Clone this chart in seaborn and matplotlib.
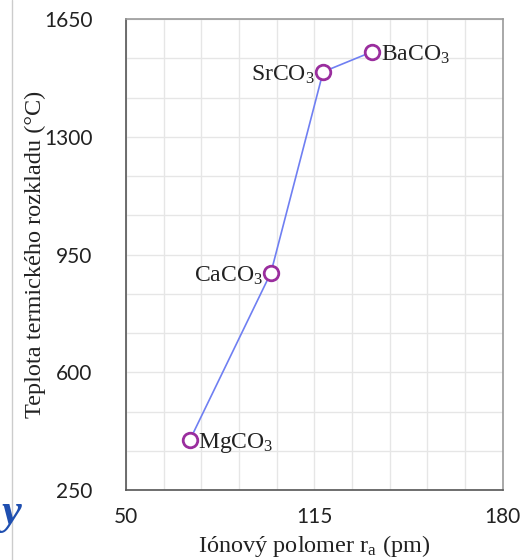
import matplotlib
matplotlib.use("Agg")
import matplotlib.pyplot as plt
import seaborn as sns
import pandas as pd

# ionic radius (pm) vs thermal decomposition temperature (°C)
compounds = ["MgCO$_3$", "CaCO$_3$", "SrCO$_3$", "BaCO$_3$"]
radius = [72, 100, 118, 135]
temperature = [398, 896, 1493, 1553]

x_ticks = [50, 115, 180]
y_ticks = [250, 600, 950, 1300, 1650]

df = pd.DataFrame({"radius": radius, "temperature": temperature, "name": compounds})

sns.set_style("white")
plt.rcParams["mathtext.default"] = "regular"

fig = plt.figure(figsize=(5.26, 5.6), dpi=100)
ax = fig.add_axes([0.2395, 0.125, 0.7165, 0.841])

sns.lineplot(data=df, x="radius", y="temperature", color="#6f7ff2", linewidth=1.2,
             sort=False, ax=ax, zorder=3)
sns.scatterplot(data=df, x="radius", y="temperature", s=110, color="white",
                edgecolor="#9a2e9e", linewidth=2, ax=ax, zorder=4)

# labels next to points
offsets = {"MgCO$_3$": (6, "left"), "CaCO$_3$": (-6, "right"),
           "SrCO$_3$": (-6, "right"), "BaCO$_3$": (6, "left")}
for _, row in df.iterrows():
    dx, ha = offsets[row["name"]]
    ax.annotate(row["name"], (row["radius"], row["temperature"]), xytext=(dx, -2),
                textcoords="offset points", ha=ha, va="center",
                family="Liberation Serif", fontsize=17, color="#222222")

ax.set_xlim(50, 180)
ax.set_ylim(250, 1650)
ax.set_xticks(x_ticks)
ax.set_yticks(y_ticks)
ax.set_xticks([50 + 13 * i for i in range(11)], minor=True)
ax.set_yticks([250 + 350 / 3 * i for i in range(13)], minor=True)
ax.grid(True, which="both", color="#e6e6e6", linewidth=1)
ax.set_axisbelow(True)

ax.tick_params(axis="x", which="major", direction="out", length=4, width=1,
               color="#444444", labelsize=15, pad=8)
ax.tick_params(axis="y", which="major", direction="out", length=4, width=1,
               color="#444444", labelsize=15, pad=20)
ax.tick_params(axis="both", which="minor", length=0)
for lbl in ax.get_xticklabels() + ax.get_yticklabels():
    lbl.set_family("Lato")
    lbl.set_color("#222222")

ax.set_xlabel("Iónový polomer r$_a$ (pm)", family="Liberation Serif", fontsize=17.5,
              color="#222222")
ax.set_ylabel("Teplota termického rozkladu (°C)", family="Liberation Serif",
              fontsize=17.5, color="#222222")
ax.xaxis.set_label_coords(0.5, -0.092)
ax.yaxis.set_label_coords(-0.212, 0.5)

for side in ["left", "bottom"]:
    ax.spines[side].set_color("#555555")
    ax.spines[side].set_linewidth(1.2)
for side in ["top", "right"]:
    ax.spines[side].set_color("#9a9a9a")
    ax.spines[side].set_linewidth(1.2)

# slide remnants at the left edge
fig.add_artist(plt.Line2D([0.023, 0.023], [0.0, 1.0], color="#cccccc", linewidth=1))
fig.text(0.002, 0.065, "y", family="Liberation Serif", style="italic",
         fontweight="bold", fontsize=32, color="#1f4fb0")

fig.savefig("out.png", dpi=100)
